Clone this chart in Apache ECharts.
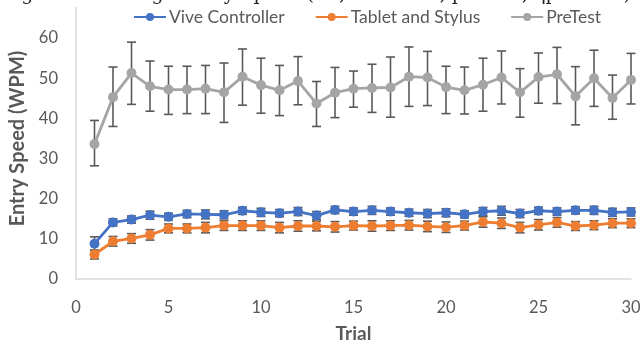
<!DOCTYPE html>
<html><head><meta charset="utf-8">
<script src="https://cdn.jsdelivr.net/npm/echarts@6/dist/echarts.min.js"></script>
<style>html,body{margin:0;padding:0;background:#fff}#c{width:644px;height:345px}</style>
</head><body><div id="c"></div>
<script>
const trials = [1,2,3,4,5,6,7,8,9,10,11,12,13,14,15,16,17,18,19,20,21,22,23,24,25,26,27,28,29,30];
const xTicks = [0,5,10,15,20,25,30];
const yTicks = [0,10,20,30,40,50,60];
const seriesNames = ['Vive Controller','Tablet and Stylus','PreTest'];
const viveMean = [8.8,14.1,14.8,15.9,15.5,16.2,16.1,16.0,17.0,16.6,16.4,16.8,15.8,17.2,16.8,17.1,16.8,16.5,16.3,16.5,16.1,16.8,17.0,16.3,17.0,16.8,17.1,17.1,16.6,16.7];
const viveErr  = [1.7,0.9,0.9,1.0,0.9,0.9,1.1,1.0,0.9,1.0,0.9,1.0,1.0,0.9,0.9,1.0,0.9,0.9,1.0,1.0,0.9,1.0,1.1,1.0,0.9,0.9,0.9,1.0,1.0,1.0];
const tabMean  = [6.1,9.4,10.1,11.0,12.6,12.6,12.8,13.3,13.3,13.3,12.8,13.2,13.2,13.0,13.3,13.2,13.3,13.4,13.1,12.9,13.3,14.2,13.9,12.8,13.5,14.1,13.2,13.4,13.9,13.9];
const tabErr   = [1.1,1.2,1.2,1.3,1.1,1.1,1.3,1.2,1.2,1.2,1.3,1.3,1.2,1.3,1.1,1.3,1.2,1.2,1.3,1.3,1.1,1.3,1.3,1.3,1.3,1.2,1.1,1.1,1.1,1.1];
const preMean  = [33.6,45.3,51.3,48.0,47.2,47.2,47.4,46.5,50.4,48.3,47.0,49.3,43.7,46.4,47.4,47.6,47.7,50.4,50.2,47.8,47.0,48.4,50.2,46.5,50.3,51.0,45.5,50.0,45.1,49.6];
const preLow   = [28.2,38.0,43.5,41.8,41.0,41.2,41.2,39.0,43.3,41.3,40.7,43.4,38.0,40.2,42.8,41.5,40.3,43.0,43.2,41.2,41.1,41.8,43.6,40.3,43.8,43.7,38.4,43.0,39.8,43.6];
const preHigh  = [39.5,52.8,59.0,54.3,53.0,53.0,53.2,53.8,57.3,55.0,53.2,55.4,49.2,52.7,51.8,53.5,55.3,57.8,56.7,53.0,52.8,55.0,56.8,52.4,56.3,57.7,52.9,57.0,50.8,56.2];
const colors = ['#4472C4','#ED7D31','#A5A5A5'];

function barData(lo, hi){ return trials.map((t,i)=>[t, lo[i], hi[i]]); }
const viveBars = barData(viveMean.map((m,i)=>m-viveErr[i]), viveMean.map((m,i)=>m+viveErr[i]));
const tabBars = barData(tabMean.map((m,i)=>m-tabErr[i]), tabMean.map((m,i)=>m+tabErr[i]));
const preBars = barData(preLow, preHigh);

function errSeries(data){
  return {
    type:'custom', data:data, z:1, silent:true,
    renderItem:function(params, api){
      const x = api.value(0);
      const lo = api.coord([x, api.value(1)]);
      const hi = api.coord([x, api.value(2)]);
      const w = 4.5;
      const st = {stroke:'#595959', lineWidth:1.6};
      return {type:'group', children:[
        {type:'line', shape:{x1:lo[0],y1:lo[1],x2:hi[0],y2:hi[1]}, style:st},
        {type:'line', shape:{x1:lo[0]-w,y1:lo[1],x2:lo[0]+w,y2:lo[1]}, style:st},
        {type:'line', shape:{x1:hi[0]-w,y1:hi[1],x2:hi[0]+w,y2:hi[1]}, style:st}
      ]};
    },
    encode:{x:0, y:[1,2]}
  };
}
function lineSeries(name, mean, color){
  return {
    name:name, type:'line', z:3, data:trials.map((t,i)=>[t, mean[i]]),
    symbol:'circle', symbolSize:10, lineStyle:{width:2.8, color:color},
    itemStyle:{color:color}, animation:false
  };
}
const chart = echarts.init(document.getElementById('c'), null, {renderer:'canvas'});
chart.setOption({
  animation:false,
  backgroundColor:'#fff',
  grid:{left:76, right:13, top:-2, bottom:66, containLabel:false, outerBoundsMode:'none'},
  legend:{
    top:3, left:128, itemGap:30, itemWidth:32, itemHeight:10,
    data:seriesNames,
    textStyle:{fontFamily:'Lato', fontSize:17.5, color:'#595959', padding:[0,0,0,-2]}
  },
  xAxis:{
    type:'value', min:0, max:30, interval:5,
    name:'Trial', nameLocation:'middle', nameGap:45,
    nameTextStyle:{fontFamily:'Lato', fontSize:19, fontWeight:'bold', color:'#595959'},
    axisLine:{show:true, lineStyle:{color:'#D9D9D9', width:1.5}},
    axisTick:{show:false}, splitLine:{show:false},
    axisLabel:{fontFamily:'Lato', fontSize:16.5, color:'#595959', margin:20,
      formatter:v=>xTicks.includes(v)?String(v):''}
  },
  yAxis:{
    type:'value', min:0, max:70, interval:10,
    name:'Entry Speed (WPM)', nameLocation:'middle', nameGap:43,
    nameTextStyle:{fontFamily:'Lato', fontSize:20, fontWeight:'bold', color:'#595959'},
    axisLine:{show:true, lineStyle:{color:'#D9D9D9', width:1.5}},
    axisTick:{show:false}, splitLine:{show:false},
    axisLabel:{fontFamily:'Lato', fontSize:16.5, color:'#595959', margin:18,
      formatter:v=>yTicks.includes(v)?String(v):''}
  },
  graphic:[
    {type:'rect', left:0, top:0, shape:{width:644, height:7}, style:{fill:'#fff'}, z:100},
    {type:'text', left:2, top:-14, z:101, style:{text:'Figure 9. Average Entry Speed (F1,29 = 2.34, p < .05, ηp² = .08)', font:'19px "DejaVu Serif", serif', fill:'#222'}}
  ],
  series:[
    errSeries(preBars), errSeries(viveBars), errSeries(tabBars),
    lineSeries(seriesNames[0], viveMean, colors[0]),
    lineSeries(seriesNames[1], tabMean, colors[1]),
    lineSeries(seriesNames[2], preMean, colors[2])
  ]
});
</script></body></html>
